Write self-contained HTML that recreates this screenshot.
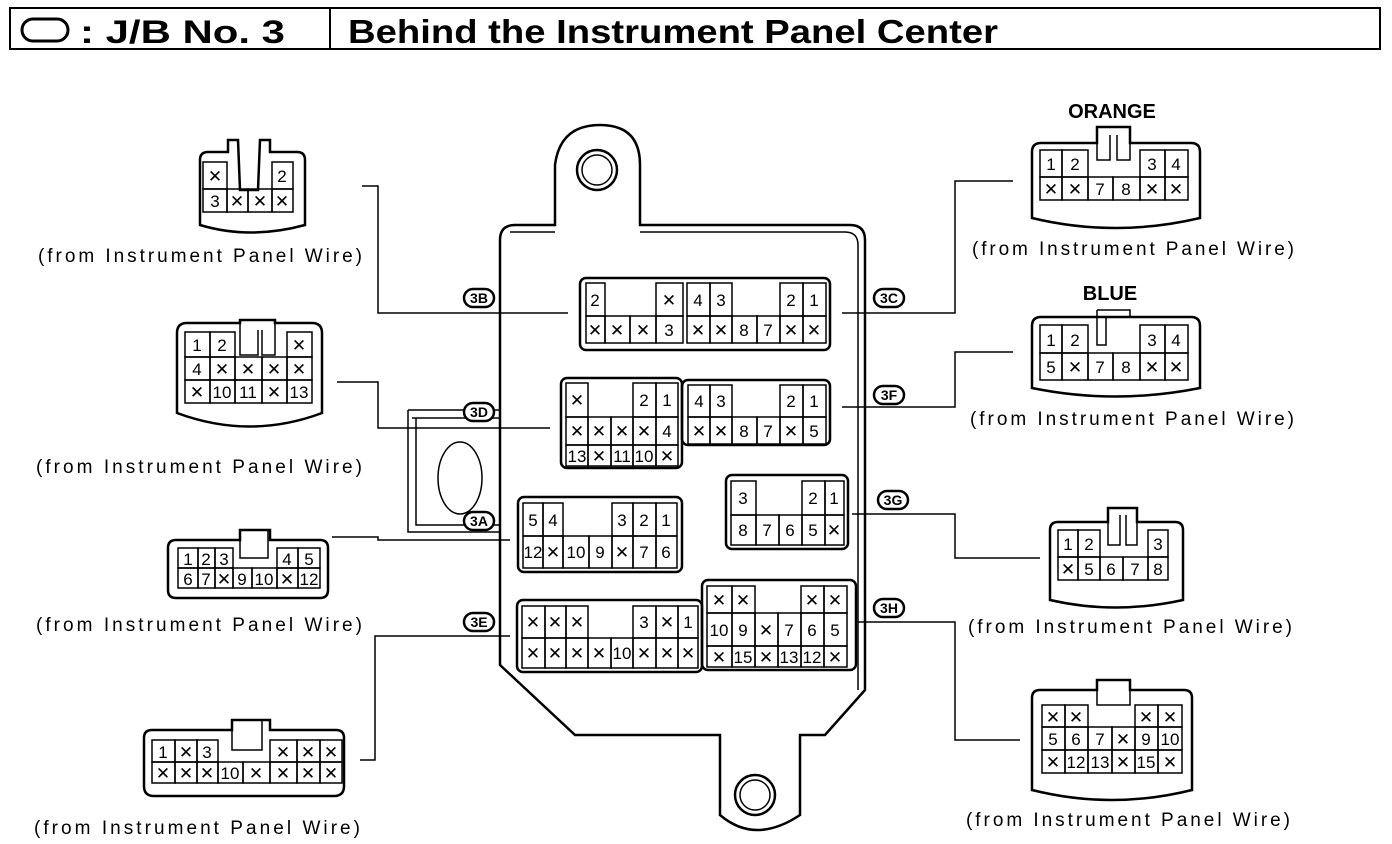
<!DOCTYPE html>
<html><head><meta charset="utf-8"><style>
body{margin:0;background:#fff}
svg{display:block}
text{font-family:"Liberation Sans","DejaVu Sans",sans-serif;fill:#000}
.c rect{fill:none;stroke:#000;stroke-width:1.5}
.c text{font-size:17px;text-anchor:middle}
.o{fill:none;stroke:#000;stroke-width:2.5}
.l{fill:none;stroke:#000;stroke-width:1.5}
.cap{font-size:19px}
.bal rect{fill:#fff;stroke:#000;stroke-width:2.5}
.bal text{font-size:14px;font-weight:bold;text-anchor:middle}
</style></head><body>
<svg width="1392" height="844" viewBox="0 0 1392 844" xmlns="http://www.w3.org/2000/svg">
<rect x="10" y="8" width="1370" height="41" fill="none" stroke="#000" stroke-width="2"/>
<line x1="330" y1="8" x2="330" y2="49" stroke="#000" stroke-width="2"/>
<rect x="22" y="19" width="46" height="22" rx="11" fill="none" stroke="#000" stroke-width="3"/>
<text x="80" y="43" font-size="32" font-weight="bold" textLength="205" lengthAdjust="spacingAndGlyphs">: J/B No. 3</text>
<text x="348" y="43" font-size="33" font-weight="bold" textLength="650" lengthAdjust="spacingAndGlyphs">Behind the Instrument Panel Center</text>

<path class="o" d="M515,225 L555,225 L555,165 Q560,125 600,125 Q640,125 640,165 L640,225 L850,225 Q865,225 865,240 L865,690 L825,735 L800,735 L800,815 Q755,845 720,815 L720,735 L575,735 L500,665 L500,240 Q500,225 515,225 Z"/>
<path class="l" d="M510,232 L555,232 M640,232 L845,232 Q858,232 858,245 L858,690"/>
<circle cx="597" cy="170" r="20" class="o"/><circle cx="597" cy="170" r="15" class="l"/>
<circle cx="755" cy="795" r="20" class="o"/><circle cx="755" cy="795" r="15" class="l"/>
<path class="l" d="M408,410 L500,410 M412,418 L500,418 M408,410 L408,532 L500,532 M416,418 L416,525 L500,525"/>
<ellipse cx="460" cy="478" rx="22" ry="36" class="l"/>

<path class="l" d="M362,186 L378,186 L378,313 L568,313"/>
<path class="l" d="M337,382 L378,382 L378,428 L550,428"/>
<path class="l" d="M332,537 L378,537 L378,540 L510,540"/>
<path class="l" d="M360,760 L375,760 L375,636 L510,636"/>
<path class="l" d="M842,313 L955,313 L955,181 L1013,181"/>
<path class="l" d="M842,407 L955,407 L955,352 L1013,352"/>
<path class="l" d="M852,514 L955,514 L955,558 L1040,558"/>
<path class="l" d="M858,622 L955,622 L955,740 L1020,740"/>

<g class="bal">
<rect x="464" y="289" width="30" height="18" rx="9"/><text x="479" y="303">3B</text>
<rect x="464" y="403" width="30" height="18" rx="9"/><text x="479" y="417">3D</text>
<rect x="464" y="512" width="30" height="18" rx="9"/><text x="479" y="526">3A</text>
<rect x="464" y="613" width="30" height="18" rx="9"/><text x="479" y="627">3E</text>
<rect x="874" y="289" width="30" height="18" rx="9"/><text x="889" y="303">3C</text>
<rect x="874" y="386" width="30" height="18" rx="9"/><text x="889" y="400">3F</text>
<rect x="878" y="491" width="30" height="18" rx="9"/><text x="893" y="505">3G</text>
<rect x="874" y="599" width="30" height="18" rx="9"/><text x="889" y="613">3H</text>
</g>

<g class="c">
<rect x="580" y="278" width="250" height="72" rx="6" style="stroke-width:2.5"/>
<rect x="586" y="283" width="19" height="33"/><text x="595" y="306">2</text>
<rect x="656" y="283" width="27" height="33"/><text x="669" y="306">✕</text>
<rect x="586" y="316" width="19" height="27"/><text x="595" y="336">✕</text>
<rect x="605" y="316" width="25" height="27"/><text x="617" y="336">✕</text>
<rect x="630" y="316" width="26" height="27"/><text x="643" y="336">✕</text>
<rect x="656" y="316" width="27" height="27"/><text x="669" y="336">3</text>
<rect x="687" y="283" width="23" height="33"/><text x="698" y="306">4</text>
<rect x="710" y="283" width="22" height="33"/><text x="721" y="306">3</text>
<rect x="780" y="283" width="23" height="33"/><text x="791" y="306">2</text>
<rect x="803" y="283" width="23" height="33"/><text x="814" y="306">1</text>
<rect x="687" y="316" width="23" height="27"/><text x="698" y="336">✕</text>
<rect x="710" y="316" width="22" height="27"/><text x="721" y="336">✕</text>
<rect x="732" y="316" width="25" height="27"/><text x="744" y="336">8</text>
<rect x="757" y="316" width="23" height="27"/><text x="768" y="336">7</text>
<rect x="780" y="316" width="23" height="27"/><text x="791" y="336">✕</text>
<rect x="803" y="316" width="23" height="27"/><text x="814" y="336">✕</text>
<rect x="561" y="378" width="121" height="90" rx="6" style="stroke-width:2.5"/>
<rect x="566" y="383" width="22" height="34"/><text x="577" y="406">✕</text>
<rect x="633" y="383" width="23" height="34"/><text x="644" y="406">2</text>
<rect x="656" y="383" width="22" height="34"/><text x="667" y="406">1</text>
<rect x="566" y="417" width="22" height="28"/><text x="577" y="437">✕</text>
<rect x="588" y="417" width="23" height="28"/><text x="599" y="437">✕</text>
<rect x="611" y="417" width="22" height="28"/><text x="622" y="437">✕</text>
<rect x="633" y="417" width="23" height="28"/><text x="644" y="437">✕</text>
<rect x="656" y="417" width="22" height="28"/><text x="667" y="437">4</text>
<rect x="566" y="445" width="22" height="21"/><text x="577" y="462">13</text>
<rect x="588" y="445" width="23" height="21"/><text x="599" y="462">✕</text>
<rect x="611" y="445" width="22" height="21"/><text x="622" y="462">11</text>
<rect x="633" y="445" width="23" height="21"/><text x="644" y="462">10</text>
<rect x="656" y="445" width="22" height="21"/><text x="667" y="462">✕</text>
<rect x="682" y="380" width="148" height="65" rx="6" style="stroke-width:2.5"/>
<rect x="688" y="385" width="22" height="32"/><text x="699" y="407">4</text>
<rect x="710" y="385" width="22" height="32"/><text x="721" y="407">3</text>
<rect x="780" y="385" width="23" height="32"/><text x="791" y="407">2</text>
<rect x="803" y="385" width="23" height="32"/><text x="814" y="407">1</text>
<rect x="688" y="417" width="22" height="27"/><text x="699" y="437">✕</text>
<rect x="710" y="417" width="22" height="27"/><text x="721" y="437">✕</text>
<rect x="732" y="417" width="25" height="27"/><text x="744" y="437">8</text>
<rect x="757" y="417" width="23" height="27"/><text x="768" y="437">7</text>
<rect x="780" y="417" width="23" height="27"/><text x="791" y="437">✕</text>
<rect x="803" y="417" width="23" height="27"/><text x="814" y="437">5</text>
<rect x="518" y="497" width="164" height="75" rx="6" style="stroke-width:2.5"/>
<rect x="523" y="503" width="20" height="33"/><text x="533" y="526">5</text>
<rect x="543" y="503" width="20" height="33"/><text x="553" y="526">4</text>
<rect x="612" y="503" width="21" height="33"/><text x="622" y="526">3</text>
<rect x="633" y="503" width="23" height="33"/><text x="644" y="526">2</text>
<rect x="656" y="503" width="21" height="33"/><text x="666" y="526">1</text>
<rect x="523" y="536" width="20" height="32"/><text x="533" y="558">12</text>
<rect x="543" y="536" width="20" height="32"/><text x="553" y="558">✕</text>
<rect x="563" y="536" width="26" height="32"/><text x="576" y="558">10</text>
<rect x="589" y="536" width="23" height="32"/><text x="600" y="558">9</text>
<rect x="612" y="536" width="21" height="32"/><text x="622" y="558">✕</text>
<rect x="633" y="536" width="23" height="32"/><text x="644" y="558">7</text>
<rect x="656" y="536" width="21" height="32"/><text x="666" y="558">6</text>
<rect x="726" y="475" width="122" height="74" rx="6" style="stroke-width:2.5"/>
<rect x="731" y="481" width="25" height="34"/><text x="743" y="504">3</text>
<rect x="802" y="481" width="23" height="34"/><text x="813" y="504">2</text>
<rect x="825" y="481" width="19" height="34"/><text x="834" y="504">1</text>
<rect x="731" y="515" width="25" height="30"/><text x="743" y="536">8</text>
<rect x="756" y="515" width="23" height="30"/><text x="767" y="536">7</text>
<rect x="779" y="515" width="23" height="30"/><text x="790" y="536">6</text>
<rect x="802" y="515" width="23" height="30"/><text x="813" y="536">5</text>
<rect x="825" y="515" width="19" height="30"/><text x="834" y="536">✕</text>
<rect x="702" y="580" width="154" height="90" rx="6" style="stroke-width:2.5"/>
<rect x="707" y="586" width="25" height="27"/><text x="719" y="606">✕</text>
<rect x="732" y="586" width="23" height="27"/><text x="743" y="606">✕</text>
<rect x="801" y="586" width="23" height="27"/><text x="812" y="606">✕</text>
<rect x="824" y="586" width="23" height="27"/><text x="835" y="606">✕</text>
<rect x="707" y="613" width="25" height="33"/><text x="719" y="636">10</text>
<rect x="732" y="613" width="23" height="33"/><text x="743" y="636">9</text>
<rect x="755" y="613" width="23" height="33"/><text x="766" y="636">✕</text>
<rect x="778" y="613" width="23" height="33"/><text x="789" y="636">7</text>
<rect x="801" y="613" width="23" height="33"/><text x="812" y="636">6</text>
<rect x="824" y="613" width="23" height="33"/><text x="835" y="636">5</text>
<rect x="707" y="646" width="25" height="21"/><text x="719" y="663">✕</text>
<rect x="732" y="646" width="23" height="21"/><text x="743" y="663">15</text>
<rect x="755" y="646" width="23" height="21"/><text x="766" y="663">✕</text>
<rect x="778" y="646" width="23" height="21"/><text x="789" y="663">13</text>
<rect x="801" y="646" width="23" height="21"/><text x="812" y="663">12</text>
<rect x="824" y="646" width="23" height="21"/><text x="835" y="663">✕</text>
<rect x="517" y="600" width="185" height="72" rx="6" style="stroke-width:2.5"/>
<rect x="522" y="606" width="23" height="32"/><text x="533" y="628">✕</text>
<rect x="545" y="606" width="21" height="32"/><text x="555" y="628">✕</text>
<rect x="566" y="606" width="22" height="32"/><text x="577" y="628">✕</text>
<rect x="633" y="606" width="23" height="32"/><text x="644" y="628">3</text>
<rect x="656" y="606" width="22" height="32"/><text x="667" y="628">✕</text>
<rect x="678" y="606" width="20" height="32"/><text x="688" y="628">1</text>
<rect x="522" y="638" width="23" height="30"/><text x="533" y="659">✕</text>
<rect x="545" y="638" width="21" height="30"/><text x="555" y="659">✕</text>
<rect x="566" y="638" width="22" height="30"/><text x="577" y="659">✕</text>
<rect x="588" y="638" width="23" height="30"/><text x="599" y="659">✕</text>
<rect x="611" y="638" width="22" height="30"/><text x="622" y="659">10</text>
<rect x="633" y="638" width="23" height="30"/><text x="644" y="659">✕</text>
<rect x="656" y="638" width="22" height="30"/><text x="667" y="659">✕</text>
<rect x="678" y="638" width="20" height="30"/><text x="688" y="659">✕</text>
</g>

<g class="c">
<path class="o" d="M200,160 L200,225 Q250,240 305,225 L305,160 Q305,152 297,152 L270,152 L270,140 L260,140 L258,190 L240,190 L238,140 L228,140 L228,152 L208,152 Q200,152 200,160 Z"/>
<rect x="203" y="162" width="24" height="27"/><text x="215" y="182">✕</text>
<rect x="272" y="162" width="21" height="27"/><text x="282" y="182">2</text>
<rect x="203" y="189" width="24" height="23"/><text x="215" y="207">3</text>
<rect x="227" y="189" width="21" height="23"/><text x="237" y="207">✕</text>
<rect x="248" y="189" width="24" height="23"/><text x="260" y="207">✕</text>
<rect x="272" y="189" width="21" height="23"/><text x="282" y="207">✕</text>
<path class="o" d="M177,333 L177,413 Q250,440 322,413 L322,333 Q322,323 312,323 L275,323 L275,320 L240,320 L240,323 L187,323 Q177,323 177,333 Z"/>
<path class="l" d="M240,320 L240,355 L258,355 L258,330 M262,330 L262,355 L275,355 L275,320"/>
<rect x="185" y="332" width="25" height="25"/><text x="197" y="351">1</text>
<rect x="210" y="332" width="25" height="25"/><text x="222" y="351">2</text>
<rect x="287" y="332" width="25" height="25"/><text x="299" y="351">✕</text>
<rect x="185" y="357" width="25" height="23"/><text x="197" y="375">4</text>
<rect x="210" y="357" width="25" height="23"/><text x="222" y="375">✕</text>
<rect x="235" y="357" width="27" height="23"/><text x="248" y="375">✕</text>
<rect x="262" y="357" width="25" height="23"/><text x="274" y="375">✕</text>
<rect x="287" y="357" width="25" height="23"/><text x="299" y="375">✕</text>
<rect x="185" y="380" width="25" height="23"/><text x="197" y="398">✕</text>
<rect x="210" y="380" width="25" height="23"/><text x="222" y="398">10</text>
<rect x="235" y="380" width="27" height="23"/><text x="248" y="398">11</text>
<rect x="262" y="380" width="25" height="23"/><text x="274" y="398">✕</text>
<rect x="287" y="380" width="25" height="23"/><text x="299" y="398">13</text>
<path class="o" d="M168,548 L168,590 Q168,598 176,598 L320,598 Q328,598 328,590 L328,548 Q328,540 320,540 L270,540 L270,530 L240,530 L240,540 L176,540 Q168,540 168,548 Z"/>
<path class="l" d="M240,530 L240,558 L268,558 L268,530"/>
<rect x="178" y="548" width="20" height="20"/><text x="188" y="565">1</text>
<rect x="198" y="548" width="17" height="20"/><text x="206" y="565">2</text>
<rect x="215" y="548" width="18" height="20"/><text x="224" y="565">3</text>
<rect x="277" y="548" width="21" height="20"/><text x="287" y="565">4</text>
<rect x="298" y="548" width="22" height="20"/><text x="309" y="565">5</text>
<rect x="178" y="568" width="20" height="20"/><text x="188" y="585">6</text>
<rect x="198" y="568" width="17" height="20"/><text x="206" y="585">7</text>
<rect x="215" y="568" width="18" height="20"/><text x="224" y="585">✕</text>
<rect x="233" y="568" width="19" height="20"/><text x="242" y="585">9</text>
<rect x="252" y="568" width="25" height="20"/><text x="264" y="585">10</text>
<rect x="277" y="568" width="21" height="20"/><text x="287" y="585">✕</text>
<rect x="298" y="568" width="22" height="20"/><text x="309" y="585">12</text>
<path class="o" d="M144,738 L144,786 Q144,796 154,796 L334,796 Q344,796 344,786 L344,738 Q344,730 336,730 L270,730 L270,720 L232,720 L232,730 L152,730 Q144,730 144,738 Z"/>
<path class="l" d="M232,720 L232,750 L262,750 L262,720"/>
<rect x="152" y="740" width="23" height="22"/><text x="163" y="758">1</text>
<rect x="175" y="740" width="22" height="22"/><text x="186" y="758">✕</text>
<rect x="197" y="740" width="21" height="22"/><text x="207" y="758">3</text>
<rect x="270" y="740" width="27" height="22"/><text x="283" y="758">✕</text>
<rect x="297" y="740" width="23" height="22"/><text x="308" y="758">✕</text>
<rect x="320" y="740" width="22" height="22"/><text x="331" y="758">✕</text>
<rect x="152" y="762" width="23" height="21"/><text x="163" y="779">✕</text>
<rect x="175" y="762" width="22" height="21"/><text x="186" y="779">✕</text>
<rect x="197" y="762" width="21" height="21"/><text x="207" y="779">✕</text>
<rect x="218" y="762" width="25" height="21"/><text x="230" y="779">10</text>
<rect x="243" y="762" width="27" height="21"/><text x="256" y="779">✕</text>
<rect x="270" y="762" width="27" height="21"/><text x="283" y="779">✕</text>
<rect x="297" y="762" width="23" height="21"/><text x="308" y="779">✕</text>
<rect x="320" y="762" width="22" height="21"/><text x="331" y="779">✕</text>
</g>

<text x="1112" y="118" font-size="20" font-weight="bold" text-anchor="middle">ORANGE</text>
<text x="1110" y="300" font-size="20" font-weight="bold" text-anchor="middle">BLUE</text>
<g class="c">
<path class="o" d="M1032,152 L1032,218 Q1115,238 1200,218 L1200,152 Q1200,143 1191,143 L1130,143 L1130,127 L1097,127 L1097,143 L1041,143 Q1032,143 1032,152 Z"/>
<path class="l" d="M1097,127 L1097,160 L1110,160 L1110,135 M1117,135 L1117,160 L1130,160 L1130,127"/>
<rect x="1040" y="150" width="22" height="27"/><text x="1051" y="170">1</text>
<rect x="1062" y="150" width="26" height="27"/><text x="1075" y="170">2</text>
<rect x="1140" y="150" width="25" height="27"/><text x="1152" y="170">3</text>
<rect x="1165" y="150" width="23" height="27"/><text x="1176" y="170">4</text>
<rect x="1040" y="177" width="22" height="23"/><text x="1051" y="195">✕</text>
<rect x="1062" y="177" width="26" height="23"/><text x="1075" y="195">✕</text>
<rect x="1088" y="177" width="25" height="23"/><text x="1100" y="195">7</text>
<rect x="1113" y="177" width="27" height="23"/><text x="1126" y="195">8</text>
<rect x="1140" y="177" width="25" height="23"/><text x="1152" y="195">✕</text>
<rect x="1165" y="177" width="23" height="23"/><text x="1176" y="195">✕</text>
<path class="o" d="M1032,326 L1032,388 Q1115,405 1200,388 L1200,326 Q1200,317 1191,317 L1041,317 Q1032,317 1032,326 Z"/>
<path class="l" d="M1097,310 L1130,310 L1130,317 M1097,310 L1097,345 L1106,345 L1106,318"/>
<rect x="1040" y="325" width="22" height="28"/><text x="1051" y="346">1</text>
<rect x="1062" y="325" width="26" height="28"/><text x="1075" y="346">2</text>
<rect x="1140" y="325" width="25" height="28"/><text x="1152" y="346">3</text>
<rect x="1165" y="325" width="23" height="28"/><text x="1176" y="346">4</text>
<rect x="1040" y="353" width="22" height="27"/><text x="1051" y="373">5</text>
<rect x="1062" y="353" width="26" height="27"/><text x="1075" y="373">✕</text>
<rect x="1088" y="353" width="25" height="27"/><text x="1100" y="373">7</text>
<rect x="1113" y="353" width="27" height="27"/><text x="1126" y="373">8</text>
<rect x="1140" y="353" width="25" height="27"/><text x="1152" y="373">✕</text>
<rect x="1165" y="353" width="23" height="27"/><text x="1176" y="373">✕</text>
<path class="o" d="M1050,530 L1050,600 Q1115,615 1183,600 L1183,530 Q1183,522 1175,522 L1137,522 L1137,508 L1108,508 L1108,522 L1058,522 Q1050,522 1050,530 Z"/>
<path class="l" d="M1108,508 L1108,545 L1120,545 L1120,515 M1126,515 L1126,545 L1137,545 L1137,508"/>
<rect x="1058" y="530" width="20" height="27"/><text x="1068" y="550">1</text>
<rect x="1078" y="530" width="22" height="27"/><text x="1089" y="550">2</text>
<rect x="1148" y="530" width="20" height="27"/><text x="1158" y="550">3</text>
<rect x="1058" y="557" width="20" height="23"/><text x="1068" y="575">✕</text>
<rect x="1078" y="557" width="22" height="23"/><text x="1089" y="575">5</text>
<rect x="1100" y="557" width="23" height="23"/><text x="1111" y="575">6</text>
<rect x="1123" y="557" width="25" height="23"/><text x="1135" y="575">7</text>
<rect x="1148" y="557" width="20" height="23"/><text x="1158" y="575">8</text>
<path class="o" d="M1032,698 L1032,790 Q1112,810 1192,790 L1192,698 Q1192,690 1184,690 L1130,690 L1130,680 L1097,680 L1097,690 L1040,690 Q1032,690 1032,698 Z"/>
<path class="l" d="M1097,680 L1097,705 L1130,705 L1130,680"/>
<rect x="1042" y="705" width="23" height="22"/><text x="1053" y="723">✕</text>
<rect x="1065" y="705" width="23" height="22"/><text x="1076" y="723">✕</text>
<rect x="1135" y="705" width="23" height="22"/><text x="1146" y="723">✕</text>
<rect x="1158" y="705" width="24" height="22"/><text x="1170" y="723">✕</text>
<rect x="1042" y="727" width="23" height="23"/><text x="1053" y="745">5</text>
<rect x="1065" y="727" width="23" height="23"/><text x="1076" y="745">6</text>
<rect x="1088" y="727" width="24" height="23"/><text x="1100" y="745">7</text>
<rect x="1112" y="727" width="23" height="23"/><text x="1123" y="745">✕</text>
<rect x="1135" y="727" width="23" height="23"/><text x="1146" y="745">9</text>
<rect x="1158" y="727" width="24" height="23"/><text x="1170" y="745">10</text>
<rect x="1042" y="750" width="23" height="23"/><text x="1053" y="768">✕</text>
<rect x="1065" y="750" width="23" height="23"/><text x="1076" y="768">12</text>
<rect x="1088" y="750" width="24" height="23"/><text x="1100" y="768">13</text>
<rect x="1112" y="750" width="23" height="23"/><text x="1123" y="768">✕</text>
<rect x="1135" y="750" width="23" height="23"/><text x="1146" y="768">15</text>
<rect x="1158" y="750" width="24" height="23"/><text x="1170" y="768">✕</text>
</g>

<g class="cap">
<text x="38" y="262" textLength="324">(from Instrument Panel Wire)</text>
<text x="36" y="473" textLength="326">(from Instrument Panel Wire)</text>
<text x="36" y="631" textLength="326">(from Instrument Panel Wire)</text>
<text x="34" y="834" textLength="326">(from Instrument Panel Wire)</text>
<text x="972" y="255" textLength="322">(from Instrument Panel Wire)</text>
<text x="970" y="425" textLength="324">(from Instrument Panel Wire)</text>
<text x="968" y="633" textLength="324">(from Instrument Panel Wire)</text>
<text x="966" y="826" textLength="324">(from Instrument Panel Wire)</text>
</g>
</svg>
</body></html>
